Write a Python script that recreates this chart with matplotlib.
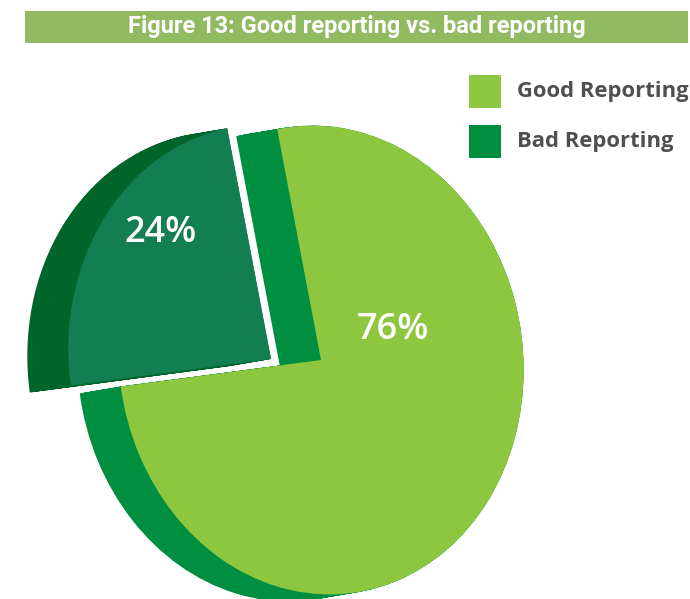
"""
Pie chart of good vs. bad reporting, drawn as a tilted 3D pie
"""
import numpy as np
import matplotlib.pyplot as plt
from matplotlib.patches import Wedge, Rectangle
from matplotlib.transforms import Affine2D

title = "Figure 13: Good reporting vs. bad reporting"
labels = ["Good Reporting", "Bad Reporting"]
shares = [76, 24]

face_colors = ["#8DC63F", "#127E52"]
side_colors = ["#008E41", "#00652B"]
legend_colors = ["#8DC63F", "#008E41"]

# pie geometry in pixel units (y axis points down)
center = (321, 360)
semi_x, semi_y = 202, 235
tilt = 8            # degrees, ellipse tilt
start = 93.2        # start angle of the bad slice, in circle space
depth = (-41, 7)    # extrusion direction of the pie side
explode = [(0, 0), (-50, -1)]
# label placement (angle, radius) in circle space
label_pos = [(12.6, 0.38), (127.4, 0.75)]

W, H = 690, 599
fig = plt.figure(figsize=(W / 100, H / 100), dpi=100)
ax = fig.add_axes([0, 0, 1, 1])
ax.set_xlim(0, W)
ax.set_ylim(H, 0)
ax.axis("off")


def pie_transform(dx, dy):
    return (Affine2D().scale(semi_x, semi_y).rotate_deg(tilt).scale(1, -1)
            .translate(center[0] + dx, center[1] + dy) + ax.transData)


# slice angles from the shares, bad slice first going counter-clockwise
spans = [s / sum(shares) * 360 for s in shares]
bad_t1, bad_t2 = start, start + spans[1]
angles = [(bad_t2, bad_t2 + spans[0]), (bad_t1, bad_t2)]

for i in range(len(shares)):
    t1, t2 = angles[i]
    ex, ey = explode[i]
    # side: stack of copies stepped along the depth direction
    for f in np.linspace(1, 0, 40):
        ax.add_patch(Wedge((0, 0), 1, t1, t2, facecolor=side_colors[i],
                           linewidth=0,
                           transform=pie_transform(ex + f * depth[0],
                                                   ey + f * depth[1])))
    ax.add_patch(Wedge((0, 0), 1, t1, t2, facecolor=face_colors[i],
                       linewidth=0, transform=pie_transform(ex, ey)))
    ang, r = label_pos[i]
    lx = r * np.cos(np.radians(ang))
    ly = r * np.sin(np.radians(ang))
    ax.text(lx, ly, f"{shares[i]}%", transform=pie_transform(ex, ey),
            ha="center", va="center", color="white", fontsize=26,
            fontweight="semibold", family=["Open Sans", "DejaVu Sans"])

# title bar
ax.add_patch(Rectangle((25, 11), 663, 32, facecolor="#92BA61", linewidth=0))
ax.text(356.5, 33, title, ha="center", va="baseline", color="white",
        fontsize=17, fontweight="bold", family=["Roboto", "DejaVu Sans"])

# legend
for i, lab in enumerate(labels):
    y0 = 75 + i * 50
    ax.add_patch(Rectangle((469, y0), 32, 33, facecolor=legend_colors[i],
                           linewidth=0))
    ax.text(517, y0 + 16.5, lab, ha="left", va="center", color="#4F4F4F",
            fontsize=15.8, fontweight="bold",
            family=["Open Sans", "DejaVu Sans"])

fig.savefig("out.png", dpi=100)
